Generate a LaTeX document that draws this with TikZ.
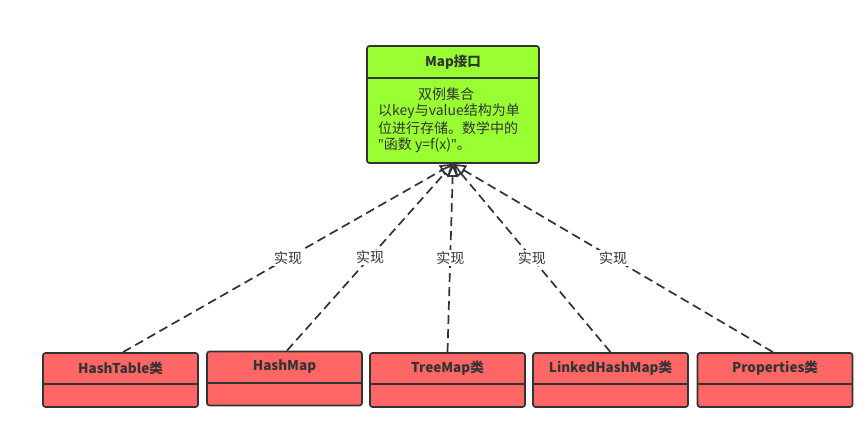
\documentclass[tikz,border=0pt]{standalone}
\usepackage{fontspec}
\setmainfont{Noto Sans CJK SC}
\newfontfamily\latinq{Noto Sans}
\usetikzlibrary{arrows.meta}
\definecolor{ink}{HTML}{333333}
\definecolor{mapgreen}{HTML}{99FF33}
\definecolor{clsred}{HTML}{FF6666}
\tikzset{
  umlbox/.style={draw=ink, line width=1.7pt, rounded corners=2.5pt, inner sep=0pt},
  divider/.style={draw=ink, line width=1.7pt},
  title/.style={font=\fontsize{13.5}{16}\selectfont\bfseries, text=ink, inner sep=0pt},
  body/.style={font=\fontsize{14}{16}\selectfont, text=ink, inner sep=0pt, anchor=west},
  impl/.style={draw=ink, line width=1.7pt, dash pattern=on 9pt off 5pt,
     -{Triangle[open, length=13pt, width=11pt, fill=white]}},
  lbl/.style={font=\fontsize{14}{16}\selectfont, text=ink, fill=white, inner sep=1pt}
}
\begin{document}
\begin{tikzpicture}[x=1pt,y=-1pt]
\useasboundingbox (0,0) rectangle (868,425);
% Map interface
\node[umlbox, fill=mapgreen, minimum width=172pt, minimum height=117pt] (map) at (453,104.5) {};
\draw[divider] (367,78) -- (539,78);
\node[title] (maptitle) at (453,62) {Map接口};
\node[body, anchor=center] (l1) at (446,94) {双例集合};
\node[body] (l2) at (378,111) {以key与value结构为单};
\node[body] (l3) at (378,128) {位进行存储。数学中的};
\node[body] (l4) at (378,145) {{\latinq"}函数 y=f(x){\latinq"}。};
% classes
\foreach \n/\cx/\cy/\t in {c1/120.5/380/HashTable类, c2/284.5/378.5/HashMap, c3/447.5/380/TreeMap类, c4/610.5/380/LinkedHashMap类, c5/775/380/Properties类}{
  \node[umlbox, fill=clsred, minimum width=155pt, minimum height=54pt] (\n) at (\cx,\cy) {};
  \draw[divider] ([yshift=-32pt]\n.north west) -- ([yshift=-32pt]\n.north east);
  \node[title] (\n t) at ([yshift=-16pt]\n.north) {\t};
}
% implementation arrows
\foreach \n/\dx in {c1/2.5, c2/2.5, c3/0, c4/0, c5/-2}{
  \draw[impl] ([xshift=\dx pt]\n.north) -- node[lbl] {实现} (map.south);
}
\end{tikzpicture}
\end{document}
